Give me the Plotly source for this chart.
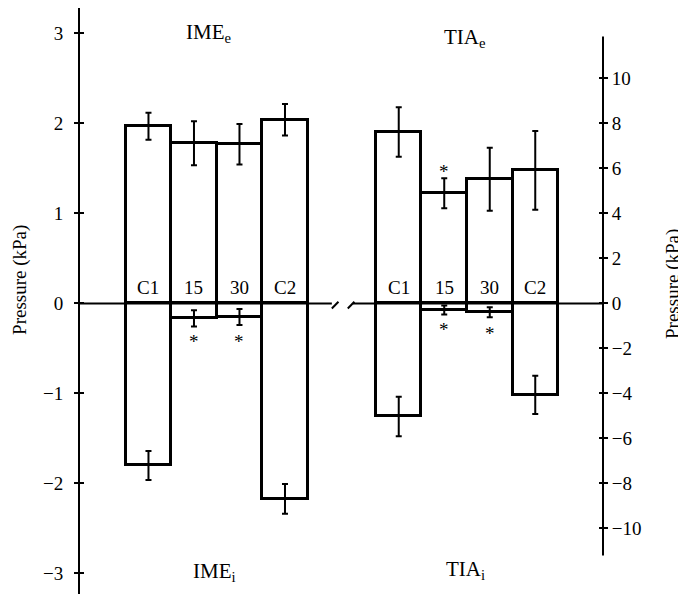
import plotly.graph_objects as go

categories = ["C1", "15", "30", "C2"]

ime_e = [1.97, 1.78, 1.77, 2.04]
ime_e_err = [0.15, 0.245, 0.225, 0.175]
ime_i = [-1.80, -0.165, -0.15, -2.17]
ime_i_err = [0.16, 0.09, 0.09, 0.165]

tia_e = [7.62, 4.90, 5.52, 5.92]
tia_e_err = [1.10, 0.67, 1.40, 1.75]
tia_i = [-5.02, -0.29, -0.39, -4.06]
tia_i_err = [0.88, 0.20, 0.22, 0.85]

left_ticks = [-3, -2, -1, 0, 1, 2, 3]
right_ticks = [-10, -8, -6, -4, -2, 0, 2, 4, 6, 8, 10]

FONT = "Liberation Serif, Times New Roman, serif"

left_x = [i for i in range(len(categories))]
right_x = [i + 5.5 for i in range(len(categories))]

YL = [-3.228, 3.283]
YR = [YL[0] * 4, YL[1] * 4]
XR = [-1.505, 9.989]


def bar(x, y, err, yaxis):
    return go.Bar(
        x=x, y=y, width=1, yaxis=yaxis,
        marker=dict(color="white", line=dict(color="black", width=3)),
        error_y=dict(type="data", array=err, color="black", thickness=2, width=3),
        showlegend=False, hoverinfo="skip",
    )


fig = go.Figure()
fig.add_trace(bar(left_x, ime_e, ime_e_err, "y"))
fig.add_trace(bar(left_x, ime_i, ime_i_err, "y"))
fig.add_trace(bar(right_x, tia_e, tia_e_err, "y2"))
fig.add_trace(bar(right_x, tia_i, tia_i_err, "y2"))

annotations = []
for xs in (left_x, right_x):
    for xv, c in zip(xs, categories):
        annotations.append(dict(x=xv, y=0.183, xref="x", yref="y", text=c, showarrow=False,
                                font=dict(family=FONT, size=19, color="black")))

# panel labels
for xv, yv, t in [(1.33, 3.0, "IME<sub>e</sub>"), (6.96, 2.95, "TIA<sub>e</sub>"),
                  (1.44, -2.98, "IME<sub>i</sub>"), (6.96, -2.96, "TIA<sub>i</sub>")]:
    annotations.append(dict(x=xv, y=yv, xref="x", yref="y", text=t, showarrow=False,
                            font=dict(family=FONT, size=21, color="black")))

# significance asterisks
for xv, yv, ya in [(left_x[1], -0.42, "y"), (left_x[2], -0.42, "y"),
                   (right_x[1], 5.85, "y2"), (right_x[1], -1.15, "y2"), (right_x[2], -1.33, "y2")]:
    annotations.append(dict(x=xv, y=yv, xref="x", yref=ya, text="*", showarrow=False,
                            font=dict(family=FONT, size=19, color="black")))

# axis titles
annotations.append(dict(x=-0.1147, y=0.536, xref="paper", yref="paper", text="Pressure (kPa)",
                        textangle=-90, showarrow=False, xanchor="center", yanchor="middle",
                        font=dict(family=FONT, size=19, color="black")))
annotations.append(dict(x=1.1338, y=0.529, xref="paper", yref="paper", text="Pressure (kPa)",
                        textangle=-90, showarrow=False, xanchor="center", yanchor="middle",
                        font=dict(family=FONT, size=19, color="black")))

shapes = [
    dict(type="line", xref="x", yref="y", x0=XR[0], x1=4.03, y0=0, y1=0,
         line=dict(color="black", width=2), layer="above"),
    dict(type="line", xref="x", yref="y", x0=4.495, x1=XR[1], y0=0, y1=0,
         line=dict(color="black", width=2), layer="above"),
    dict(type="line", xref="x", yref="y", x0=4.03, x1=4.175, y0=-0.055, y1=0.02,
         line=dict(color="black", width=2), layer="above"),
    dict(type="line", xref="x", yref="y", x0=4.38, x1=4.525, y0=-0.055, y1=0.02,
         line=dict(color="black", width=2), layer="above"),
    dict(type="line", xref="paper", yref="y2", x0=1, x1=1, y0=-11.2, y1=11.86,
         line=dict(color="black", width=2), layer="above"),
]

tickfont = dict(family=FONT, size=19, color="black")

# page body has an 8px default margin: compensate so the plot area sits at x 80-603, y 8-594
fig.update_layout(
    width=686, height=594, autosize=False,
    margin=dict(l=72, r=91, t=0, b=8, pad=0),
    plot_bgcolor="white", paper_bgcolor="white",
    barmode="overlay", bargap=0,
    xaxis=dict(range=XR, visible=False, fixedrange=True),
    yaxis=dict(range=YL, tickvals=left_ticks, ticks="outside", ticklen=4, tickwidth=2,
               tickcolor="black", showline=True, linecolor="black", linewidth=2,
               showgrid=False, zeroline=False, tickfont=tickfont, ticklabelstandoff=7),
    yaxis3=dict(range=YL, overlaying="y", tickvals=left_ticks, ticks="inside", ticklen=4,
                tickwidth=2, tickcolor="black", showticklabels=False, showgrid=False,
                zeroline=False, showline=False),
    yaxis2=dict(range=YR, overlaying="y", side="right", tickvals=right_ticks, ticks="outside",
                ticklen=4, tickwidth=2, tickcolor="black", showline=False, showgrid=False,
                zeroline=False, tickfont=tickfont, ticklabelstandoff=0),
    yaxis4=dict(range=YR, overlaying="y", side="right", tickvals=right_ticks, ticks="inside",
                ticklen=4, tickwidth=2, tickcolor="black", showticklabels=False, showgrid=False,
                zeroline=False, showline=False),
    annotations=annotations, shapes=shapes,
)

# invisible traces so the overlay tick axes render
fig.add_trace(go.Scatter(x=[None], y=[None], yaxis="y3", showlegend=False, hoverinfo="skip"))
fig.add_trace(go.Scatter(x=[None], y=[None], yaxis="y4", showlegend=False, hoverinfo="skip"))

fig.write_html("out.html")
